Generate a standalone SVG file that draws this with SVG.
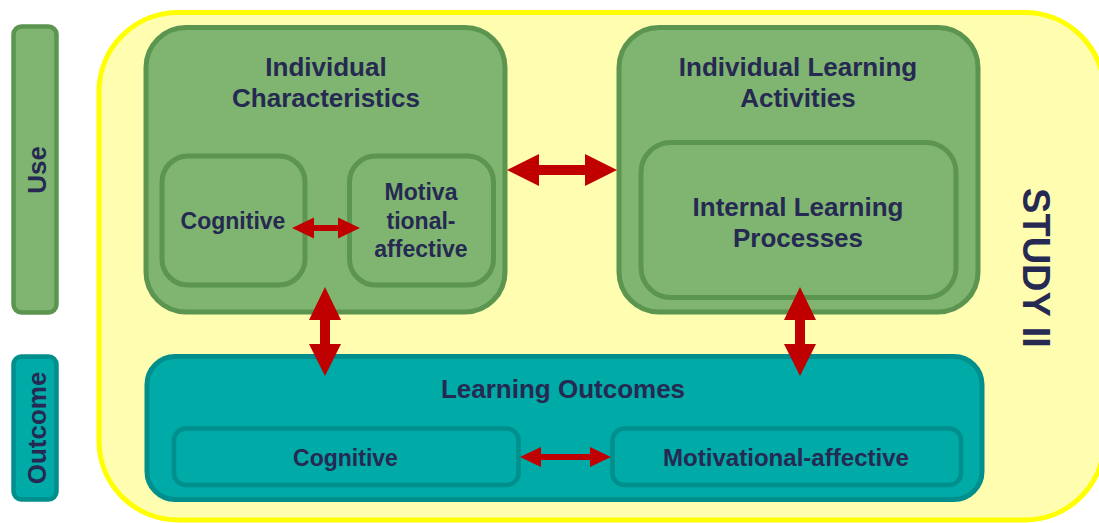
<svg xmlns="http://www.w3.org/2000/svg" width="1099" height="523" viewBox="0 0 1099 523">
  <style>
    .txt { font-family: "Liberation Sans", Arial, sans-serif; font-weight: bold; fill: #262952; text-anchor: middle; }
    .t26 { font-size: 26px; }
    .t23 { font-size: 23px; }
    .t38 { font-size: 38px; }
    .green { fill: #7fb570; stroke: #5b954f; stroke-width: 5; }
    .teal { fill: #00aaa6; stroke: #008f8c; stroke-width: 5; }
    .study { fill: #fffdb0; stroke: #ffff00; stroke-width: 5; }
    .arrow { fill: #c00000; }
  </style>

  <!-- study frame (right side runs past the canvas edge) -->
  <g id="study">
    <rect class="study" x="99" y="12.5" width="1005" height="507.5" rx="79" ry="79"/>
    <text class="txt t38" transform="translate(1023,268) rotate(90)">STUDY II</text>
  </g>

  <!-- side labels -->
  <g id="use">
    <rect class="green" x="13.5" y="26.5" width="43" height="286" rx="8" ry="8" style="stroke-width:4.5"/>
    <text class="txt t26" transform="translate(46,170) rotate(-90)">Use</text>
  </g>
  <g id="outcome">
    <rect class="teal" x="13.5" y="356.5" width="43" height="143" rx="8" ry="8" style="stroke-width:4.5"/>
    <text class="txt t26" transform="translate(46,428) rotate(-90)">Outcome</text>
  </g>

  <!-- individual characteristics -->
  <g id="individual-characteristics">
    <rect class="green" x="146" y="27.5" width="359" height="284.5" rx="40" ry="40"/>
    <text class="txt t26" x="326" y="76">Individual</text>
    <text class="txt t26" x="326" y="107">Characteristics</text>
  </g>
  <g id="ic-cognitive">
    <rect class="green" x="162" y="156" width="143" height="129" rx="26" ry="26"/>
    <text class="txt t23" x="233" y="229">Cognitive</text>
  </g>
  <g id="ic-motivational">
    <rect class="green" x="349.5" y="156" width="144" height="129" rx="26" ry="26"/>
    <text class="txt t23" x="421" y="200">Motiva</text>
    <text class="txt t23" x="421" y="229">tional-</text>
    <text class="txt t23" x="421" y="257">affective</text>
  </g>

  <!-- individual learning activities -->
  <g id="learning-activities">
    <rect class="green" x="619" y="27.5" width="359" height="284.5" rx="40" ry="40"/>
    <text class="txt t26" x="798" y="76">Individual Learning</text>
    <text class="txt t26" x="798" y="107">Activities</text>
  </g>
  <g id="internal-processes">
    <rect class="green" x="641" y="142.5" width="315" height="155" rx="30" ry="30"/>
    <text class="txt t26" x="798" y="216">Internal Learning</text>
    <text class="txt t26" x="798" y="247">Processes</text>
  </g>

  <!-- learning outcomes -->
  <g id="learning-outcomes">
    <rect class="teal" x="147" y="356.5" width="835" height="143" rx="28" ry="28"/>
    <text class="txt t26" x="563" y="398">Learning Outcomes</text>
  </g>
  <g id="lo-cognitive">
    <rect class="teal" x="174" y="428.5" width="344.5" height="56.5" rx="12" ry="12" style="stroke-width:4.5"/>
    <text class="txt t23" x="345.5" y="466">Cognitive</text>
  </g>
  <g id="lo-motivational">
    <rect class="teal" x="612.5" y="428.5" width="348.5" height="56.5" rx="12" ry="12" style="stroke-width:4.5"/>
    <text class="txt t23" x="786" y="466" textLength="246" lengthAdjust="spacingAndGlyphs">Motivational-affective</text>
  </g>

  <!-- connectors -->
  <g id="connectors">
    <!-- characteristics <-> activities -->
    <polygon class="arrow" points="507,170 539,154 539,165 585,165 585,154 617,170 585,186 585,175 539,175 539,186"/>
    <!-- cognitive <-> motivational (characteristics) -->
    <polygon class="arrow" points="292,228 314,217.5 314,225 338,225 338,217.5 360,228 338,238.5 338,231 314,231 314,238.5"/>
    <!-- characteristics <-> outcomes -->
    <polygon class="arrow" points="325,287 341,320 330,320 330,344 341,344 325,376 309,344 320,344 320,320 309,320"/>
    <!-- processes <-> outcomes -->
    <polygon class="arrow" points="800,287 816,320 805,320 805,344 816,344 800,376 784,344 795,344 795,320 784,320"/>
    <!-- cognitive <-> motivational (outcomes) -->
    <polygon class="arrow" points="520,457 541,447 541,454 590,454 590,447 611,457 590,467 590,460 541,460 541,467"/>
  </g>
</svg>
